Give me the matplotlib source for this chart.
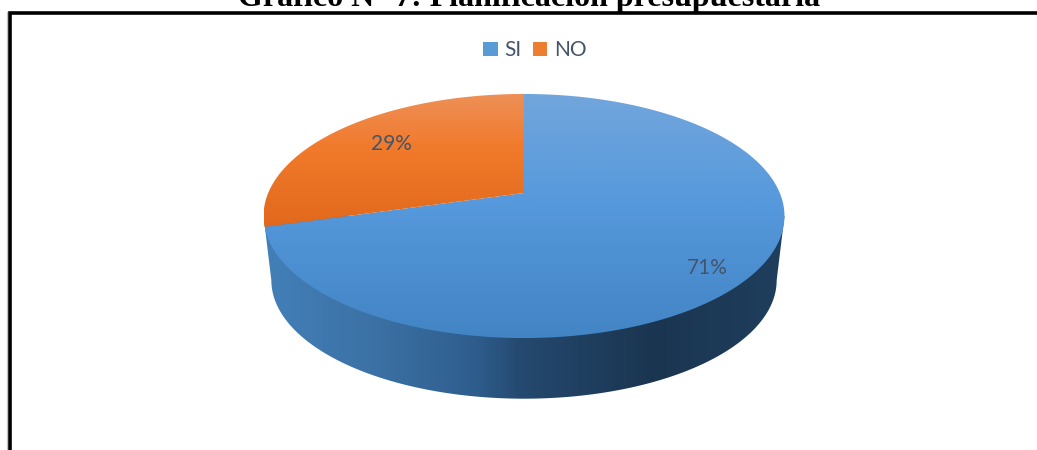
import numpy as np
import matplotlib
matplotlib.use("Agg")
import matplotlib.pyplot as plt
from matplotlib.colors import LinearSegmentedColormap
from matplotlib.patches import Polygon, Patch

# Prepare the data
title = "Gráfico N° 7: Planificación presupuestaria"
categories = ["SI", "NO"]
values = [70.6, 29.4]
colors = ["#5b9bd5", "#ed7d31"]

# perspective of the pie, in pixels
cx = 524
cy = 193
A = 255.8
S = 117.7
k = 0.1885
depth_scale = 0.97
depth_y = 65

label_pos = [(707, 268), (391, 144)]
text_color = "#44546a"


def project(u, v, scale=1.0, dy=0.0):
    w = 1 - k * v
    return np.column_stack((cx + scale * A * u / w, cy + dy + scale * S * v / w))


def arc(start, end, scale=1.0, dy=0.0):
    # angles in degrees, clockwise from the top of the pie
    t = np.radians(np.linspace(start, end, 300))
    return project(np.sin(t), -np.cos(t), scale, dy)


def gradient_fill(ax, points, stops, vertical=True):
    x0, y0 = points.min(axis=0)
    x1, y1 = points.max(axis=0)
    cmap = LinearSegmentedColormap.from_list("g", stops)
    grad = np.linspace(0, 1, 256)
    grad = grad.reshape(-1, 1) if vertical else grad.reshape(1, -1)
    im = ax.imshow(grad, cmap=cmap, extent=(x0, x1, y1, y0), aspect="auto", interpolation="bilinear", zorder=2)
    poly = Polygon(points, closed=True, transform=ax.transData, facecolor="none", edgecolor="none")
    ax.add_patch(poly)
    im.set_clip_path(poly)


fig = plt.figure(figsize=(10.37, 4.5), dpi=100)
ax = fig.add_axes([0, 0, 1, 1])

# side of the pie, between the widest points of both rims
t_side = np.degrees(np.arccos(-k))
side = np.vstack((arc(t_side, t_side)[:1],
                  arc(t_side, 360 - t_side, depth_scale, depth_y),
                  arc(360 - t_side, 360 - t_side)[:1]))
gradient_fill(ax, side, [(0, "#437fb8"), (0.2, "#3c72a6"), (0.4, "#2f5e8e"), (0.5, "#24486e"),
                         (0.75, "#1a3550"), (1, "#1f3f5e")], vertical=False)

# top of the pie
si_angle = values[0] / sum(values) * 360
si_pts = np.vstack(([[cx, cy]], arc(0, si_angle)))
no_pts = np.vstack(([[cx, cy]], arc(si_angle, 360)))
gradient_fill(ax, si_pts, [(0, "#72a6dc"), (0.45, "#5699dc"), (1, "#4284c4")])
gradient_fill(ax, no_pts, [(0, "#ee9058"), (0.4, "#f17a2b"), (1, "#e2691c")])

# labels
for v, pos in zip(values, label_pos):
    ax.text(pos[0], pos[1], "%.0f%%" % v, family="Lato", fontsize=15, color=text_color,
            ha="center", va="center", zorder=5)

# legend
handles = [Patch(facecolor=c, label=n) for c, n in zip(colors, categories)]
leg = ax.legend(handles=handles, ncol=2, loc="center", bbox_to_anchor=(535, 50.5),
                bbox_transform=ax.transData, frameon=False, handlelength=0.68, handleheight=0.68,
                handletextpad=0.33, columnspacing=0.55,
                prop={"family": "Lato", "size": 15}, labelcolor=text_color)

# frame and clipped title of the page
ax.plot([9.5, 9.5, 1037], [450, 12.5, 12.5], color="black", lw=2.6, solid_joinstyle="miter", zorder=6)
ax.plot([7.2, 7.2], [12, 450], color="#c0c0c0", lw=0.8, zorder=5)
ax.text(529.5, 6, title, family="Liberation Serif", weight="bold", fontsize=23, color="black",
        ha="center", va="baseline", zorder=7)

ax.set_xlim(0, 1037)
ax.set_ylim(450, 0)
ax.axis("off")

fig.savefig("out.png", dpi=100)
